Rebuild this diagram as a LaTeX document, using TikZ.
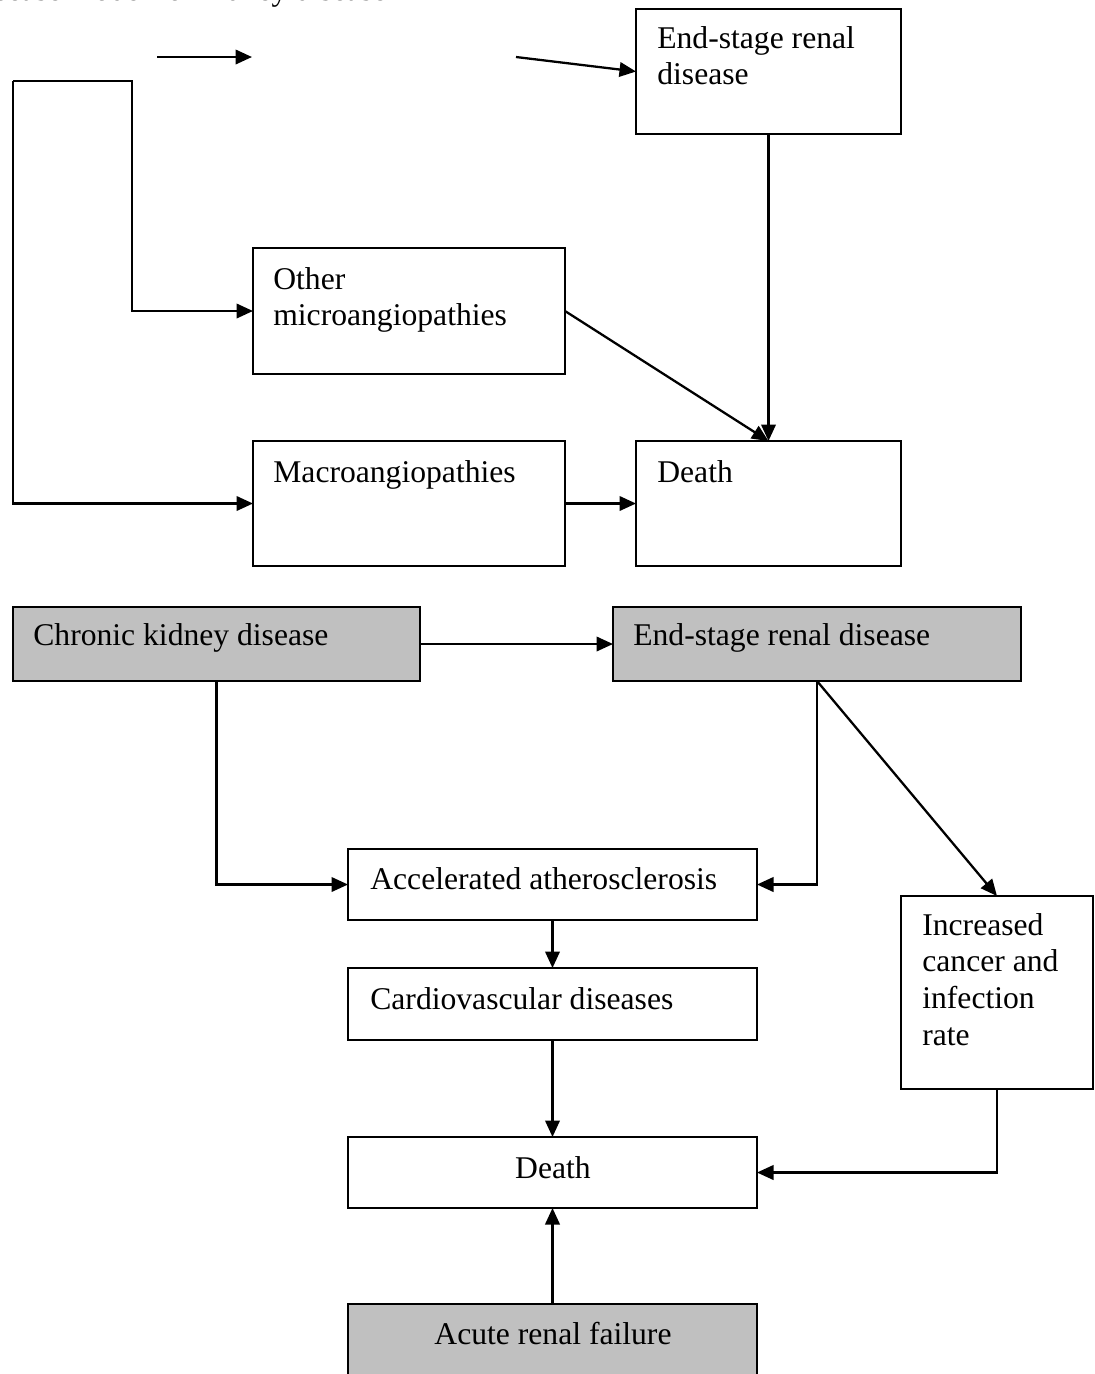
\documentclass[tikz,border=0pt]{standalone}
\usepackage{fontspec}
\setmainfont{Liberation Serif}
\usetikzlibrary{arrows.meta}
\definecolor{boxgray}{HTML}{C0C0C0}
\tikzset{
  box/.style={draw, rectangle, line width=1.3pt, inner sep=0pt, outer sep=0pt, anchor=north west},
  sz/.style 2 args={minimum width=#1*0.02cm, minimum height=#2*0.02cm},
  shaded/.style={fill=boxgray},
  lbl/.style={anchor=base west, inner sep=0pt, font=\fontsize{18}{21}\selectfont},
  clbl/.style={anchor=base, inner sep=0pt, font=\fontsize{18}{21}\selectfont},
  arr/.style={line width=1.3pt, -{Triangle[length=0.33cm, width=0.29cm]}}
}
\newcommand{\lines}[1]{\begin{tabular}[t]{@{}l@{}}#1\end{tabular}}
\begin{document}
\begin{tikzpicture}[x=0.02cm, y=-0.02cm]
\useasboundingbox (0,0) rectangle (1095,1374);
\clip (0,0) rectangle (1095,1374);
\fill[white] (0,0) rectangle (1095,1374);

% heading, cut off at the top edge
\node[anchor=base east, inner sep=0pt, font=\fontsize{18}{21}\selectfont] (heading) at (387,0.6) {Disease model for kidney disease};

% ---------- upper model ----------
\node[box, sz={265}{125}] (esrdA) at (636,9) {};
\node[box, sz={312}{126}] (other) at (253,248) {};
\node[box, sz={312}{125}] (macro) at (253,441) {};
\node[box, sz={265}{125}] (deathA) at (636,441) {};

\node[lbl] (esrdAt) at (657,48) {\lines{End-stage renal\\disease}};
\node[lbl] (othert) at (273,289) {\lines{Other\\microangiopathies}};
\node[lbl] (macrot) at (273,482) {Macroangiopathies};
\node[lbl] (deathAt) at (657,482) {Death};

\coordinate (a1s) at (157,57);
\coordinate (a1e) at (252,57);
\coordinate (a2s) at (516,57);
\draw[arr] (a1s) -- (a1e);
\draw[arr] (a2s) -- (esrdA.west);

\coordinate (brkL) at (13,81);
\coordinate (brkR) at (132,81);
\draw[arr] (brkL) -- (brkR) |- (other.west);
\draw[arr] (brkL) |- (macro.west);

\draw[arr] (other.east) -- (deathA.north);
\draw[arr] (esrdA.south) -- (deathA.north);
\draw[arr] (macro.east) -- (deathA.west);

% ---------- lower model ----------
\node[box, shaded, sz={407}{74}] (ckd) at (13,607) {};
\node[box, shaded, sz={408}{74}] (esrdB) at (613,607) {};
\node[box, sz={409}{71}] (accel) at (348,849) {};
\node[box, sz={409}{72}] (cardio) at (348,968) {};
\node[box, sz={192}{193}] (incr) at (901,896) {};
\node[box, sz={409}{71}] (deathB) at (348,1137) {};
\node[box, shaded, sz={409}{110}] (acute) at (348,1304) {};

\node[lbl] (ckdt) at (33,645) {Chronic kidney disease};
\node[lbl] (esrdBt) at (633,645) {End-stage renal disease};
\node[lbl] (accelt) at (370,889) {Accelerated atherosclerosis};
\node[lbl] (cardiot) at (370,1009) {Cardiovascular diseases};
\node[lbl] (incrt) at (922,935) {\lines{Increased\\cancer and\\infection\\rate}};
\node[clbl] (deathBt) at (553,1178) {Death};
\node[clbl] (acutet) at (553,1344) {Acute renal failure};

\draw[arr] (ckd.east) -- (esrdB.west);
\draw[arr] (ckd.south) |- (accel.west);
\draw[arr] (esrdB.south) |- (accel.east);
\draw[arr] (esrdB.south) -- (incr.north);
\draw[arr] (accel.south) -- (cardio.north);
\draw[arr] (cardio.south) -- (deathB.north);
\draw[arr] (incr.south) |- (deathB.east);
\draw[arr] (acute.north) -- (deathB.south);
\end{tikzpicture}
\end{document}
